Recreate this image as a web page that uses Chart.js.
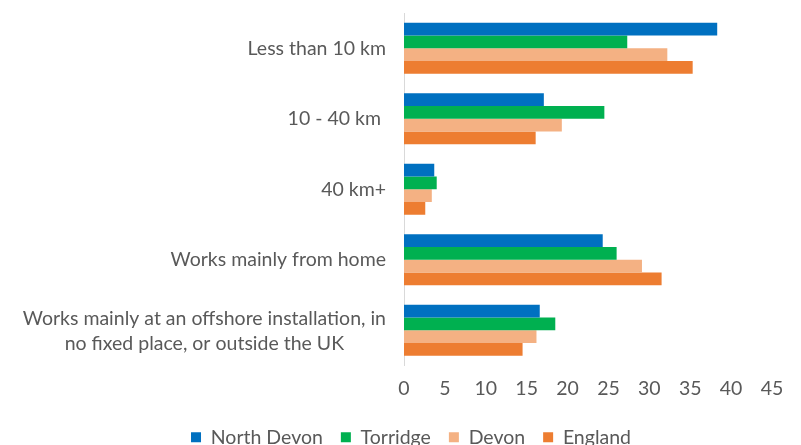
<!DOCTYPE html>
<html>
<head>
<meta charset="utf-8">
<script src="https://cdn.jsdelivr.net/npm/chart.js@4/dist/chart.umd.min.js"></script>
<style>
    html, body { margin: 0; padding: 0; background: #fff; overflow: hidden; }
    #wrap { position: relative; width: 801px; height: 457px; }
</style>
</head>
<body>
<div id="wrap"><canvas id="chart"></canvas></div>
<script>
// category labels (multi-line where the original wraps)
const categories = [
    ['Less than 10 km'],
    ['10 - 40 km '],
    ['40 km+'],
    ['Works mainly from home'],
    ['Works mainly at an offshore installation, in', 'no fixed place, or outside the UK']
];

// % of workers by distance travelled to work
const northDevon = [38.3, 17.1, 3.7, 24.3, 16.6];
const torridge   = [27.3, 24.5, 4.0, 26.0, 18.5];
const devon      = [32.2, 19.3, 3.4, 29.1, 16.2];
const england    = [35.3, 16.1, 2.6, 31.5, 14.5];

const xTicks = [0, 5, 10, 15, 20, 25, 30, 35, 40, 45];

const textColor = '#595959';
const fontFamily = 'Lato, "Open Sans", sans-serif';
const fontSize = 19.5;

// draws the y labels so wrapped lines are centred on each other, block right-aligned
const yLabels = {
    id: 'yLabels',
    afterLayout(chart) {
        // legend sits a little right of centre in the original
        chart.legend.left += 25;
        chart.legend.right += 25;
    },
    afterDraw(chart) {
        const ctx = chart.ctx;
        const yScale = chart.scales.y;
        const right = chart.chartArea.left - 18;
        const lineHeight = 25;

        ctx.save();
        ctx.font = fontSize + 'px ' + fontFamily;
        ctx.fillStyle = textColor;
        ctx.textAlign = 'center';
        ctx.textBaseline = 'middle';

        categories.forEach((lines, i) => {
            const blockWidth = Math.max(...lines.map(l => ctx.measureText(l).width));
            const cx = right - blockWidth / 2;
            const cy = yScale.getPixelForValue(i);
            const top = cy - (lines.length - 1) * lineHeight / 2 + (lines.length > 1 ? 1 : 0);
            lines.forEach((line, j) => {
                ctx.fillText(line, cx, top + j * lineHeight);
            });
        });

        ctx.restore();
    }
};

new Chart(document.getElementById('chart'), {
    type: 'bar',
    data: {
        labels: categories.map(c => c.join(' ')),
        datasets: [
            { label: 'North Devon', data: northDevon, backgroundColor: '#0070C0' },
            { label: 'Torridge',    data: torridge,   backgroundColor: '#00B050' },
            { label: 'Devon',       data: devon,      backgroundColor: '#F4B183' },
            { label: 'England',     data: england,    backgroundColor: '#ED7D31' }
        ]
    },
    options: {
        indexAxis: 'y',
        responsive: true,
        maintainAspectRatio: false,
        animation: false,
        datasets: {
            bar: {
                categoryPercentage: 0.72,
                barPercentage: 1
            }
        },
        layout: {
            padding: { top: 13, right: 29, left: 0, bottom: 0 }
        },
        plugins: {
            legend: {
                position: 'bottom',
                labels: {
                    boxWidth: 10,
                    boxHeight: 10,
                    padding: 18,
                    color: textColor,
                    font: { family: fontFamily, size: fontSize }
                }
            },
            tooltip: { enabled: false }
        },
        scales: {
            x: {
                min: 0,
                max: 45,
                afterBuildTicks: scale => {
                    scale.ticks = xTicks.map(v => ({ value: v }));
                },
                afterFit: scale => {
                    scale.height = 44;
                },
                grid: { display: false, drawTicks: false },
                border: { display: false },
                ticks: {
                    color: textColor,
                    padding: 12,
                    font: { family: fontFamily, size: fontSize }
                }
            },
            y: {
                grid: { display: false, drawTicks: false },
                border: { display: true, color: '#D9D9D9', width: 1 },
                ticks: { display: false },
                afterFit: scale => {
                    scale.width = 404;
                }
            }
        }
    },
    plugins: [yLabels]
});
</script>
</body>
</html>
